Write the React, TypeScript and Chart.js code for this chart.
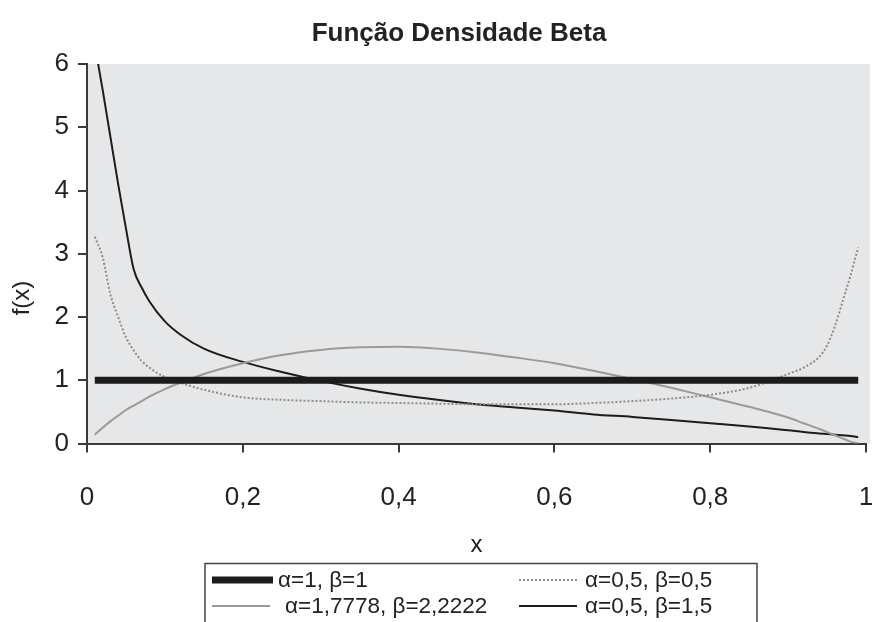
import React, { useEffect, useRef } from 'react';
import { Chart, registerables } from 'chart.js';

Chart.register(...registerables);

const chartTitle = 'Função Densidade Beta';
const xAxisTitle = 'x';
const yAxisTitle = 'f(x)';
const xTickLabels = ['0', '0,2', '0,4', '0,6', '0,8', '1'];
const yTickLabels = ['0', '1', '2', '3', '4', '5', '6'];
const seriesNames = ['α=1, β=1', 'α=0,5, β=0,5', 'α=1,7778, β=2,2222', 'α=0,5, β=1,5'];

const xValues = [0.01, 0.02, 0.03, 0.04, 0.05, 0.06, 0.07, 0.08, 0.1, 0.12, 0.15, 0.2, 0.25, 0.3, 0.35, 0.4, 0.45, 0.5, 0.55, 0.6, 0.65, 0.7, 0.75, 0.8, 0.85, 0.9, 0.92, 0.94, 0.95, 0.96, 0.97, 0.98, 0.99];
const uniformValues = [1, 1, 1, 1, 1, 1, 1, 1, 1, 1, 1, 1, 1, 1, 1, 1, 1, 1, 1, 1, 1, 1, 1, 1, 1, 1, 1, 1, 1, 1, 1, 1, 1];
const arcsineValues = [3.27, 2.95, 2.36, 2.0, 1.68, 1.47, 1.31, 1.2, 1.05, 0.96, 0.85, 0.73, 0.69, 0.67, 0.65, 0.64, 0.63, 0.62, 0.62, 0.62, 0.64, 0.67, 0.71, 0.77, 0.88, 1.1, 1.2, 1.37, 1.55, 1.85, 2.25, 2.65, 3.1];
const bellValues = [0.14, 0.25, 0.35, 0.44, 0.53, 0.6, 0.67, 0.74, 0.86, 0.96, 1.1, 1.27, 1.4, 1.48, 1.52, 1.53, 1.5, 1.44, 1.36, 1.27, 1.15, 1.02, 0.88, 0.73, 0.58, 0.41, 0.32, 0.23, 0.18, 0.13, 0.08, 0.03, 0.0];
const decreasingValues = [6.3, 5.6, 4.85, 4.1, 3.4, 2.75, 2.47, 2.25, 1.93, 1.72, 1.5, 1.29, 1.13, 0.99, 0.87, 0.77, 0.69, 0.62, 0.57, 0.52, 0.46, 0.42, 0.37, 0.32, 0.27, 0.21, 0.18, 0.16, 0.15, 0.14, 0.13, 0.12, 0.1];

const FONT = "'Liberation Sans', Arial, Helvetica, sans-serif";
const TEXT = '#222222';
const AXIS = '#3a3a3a';

const toPoints = (ys: number[]) => xValues.map((x, i) => ({ x, y: ys[i] }));

const bgPlugin = {
  id: 'plotBg',
  beforeDraw(chart: any) {
    const { ctx, chartArea } = chart;
    ctx.save();
    ctx.fillStyle = '#e6e7e9';
    ctx.fillRect(chartArea.left, chartArea.top, chartArea.right - chartArea.left + 4, chartArea.bottom - chartArea.top);
    ctx.restore();
  },
};

const textPlugin = {
  id: 'customText',
  afterDraw(chart: any) {
    const { ctx } = chart;
    ctx.save();
    ctx.font = `bold 26px ${FONT}`;
    ctx.fillStyle = TEXT;
    ctx.textAlign = 'center';
    ctx.textBaseline = 'alphabetic';
    ctx.fillText(chartTitle, 459, 41);
    ctx.translate(22, 298);
    ctx.rotate(-Math.PI / 2);
    ctx.font = `24px ${FONT}`;
    ctx.textBaseline = 'middle';
    ctx.fillText(yAxisTitle, 0, 0);
    ctx.restore();
  },
};

const legendLayout = [
  { sx: 212, ex: 273, tx: 278, y: 580 },
  { sx: 519, ex: 579, tx: 585, y: 580 },
  { sx: 212, ex: 270, tx: 285, y: 606 },
  { sx: 519, ex: 577, tx: 585, y: 606 },
];

const legendPlugin = {
  id: 'boxLegend',
  afterDraw(chart: any) {
    const { ctx } = chart;
    ctx.save();
    ctx.strokeStyle = '#444444';
    ctx.lineWidth = 1.5;
    ctx.strokeRect(205, 563.5, 552, 120);
    chart.data.datasets.forEach((ds: any, i: number) => {
      const L = legendLayout[i];
      ctx.save();
      ctx.strokeStyle = ds.borderColor;
      ctx.lineWidth = ds.borderWidth;
      ctx.setLineDash(ds.borderDash || []);
      ctx.lineCap = 'butt';
      ctx.beginPath();
      ctx.moveTo(L.sx, L.y);
      ctx.lineTo(L.ex, L.y);
      ctx.stroke();
      ctx.restore();
      ctx.font = `22.5px ${FONT}`;
      ctx.fillStyle = TEXT;
      ctx.textAlign = 'left';
      ctx.textBaseline = 'middle';
      ctx.fillText(ds.label, L.tx, L.y + 1);
    });
    ctx.restore();
  },
};

export default function App() {
  const ref = useRef<HTMLCanvasElement | null>(null);

  useEffect(() => {
    document.body.style.margin = '0';
    const canvas = ref.current;
    if (!canvas) return;
    const chart = new Chart(canvas, {
      type: 'line',
      data: {
        datasets: [
          {
            label: seriesNames[0],
            data: toPoints(uniformValues),
            borderColor: '#1c1c1c',
            borderWidth: 7,
            pointRadius: 0,
            borderCapStyle: 'butt',
          },
          {
            label: seriesNames[1],
            data: toPoints(arcsineValues),
            borderColor: '#8c8c8c',
            borderWidth: 2,
            borderDash: [2, 2],
            pointRadius: 0,
            cubicInterpolationMode: 'monotone',
          },
          {
            label: seriesNames[2],
            data: toPoints(bellValues),
            borderColor: '#9a9a9a',
            borderWidth: 2,
            pointRadius: 0,
            cubicInterpolationMode: 'monotone',
          },
          {
            label: seriesNames[3],
            data: toPoints(decreasingValues),
            borderColor: '#1c1c1c',
            borderWidth: 2,
            pointRadius: 0,
            cubicInterpolationMode: 'monotone',
          },
        ] as any,
      },
      options: {
        animation: false,
        responsive: false,
        devicePixelRatio: 1,
        layout: { padding: { left: 0, right: 8, top: 64, bottom: 58.5 } },
        plugins: {
          legend: { display: false },
          title: { display: false },
          tooltip: { enabled: false },
        },
        scales: {
          x: {
            type: 'linear',
            min: 0,
            max: 1,
            border: { display: true, color: AXIS, width: 2 },
            grid: { display: true, drawOnChartArea: false, drawTicks: true, tickLength: 9, color: AXIS, lineWidth: 2 },
            ticks: {
              stepSize: 0.2,
              autoSkip: false,
              maxRotation: 0,
              padding: 30,
              color: TEXT,
              font: { family: FONT, size: 26 },
              callback: (_v: any, i: number) => xTickLabels[i],
            },
            title: { display: true, text: xAxisTitle, color: TEXT, font: { family: FONT, size: 24 }, padding: { top: 0, bottom: 4 } },
            afterFit: (s: any) => {
              s.height = 120;
              s.paddingLeft = 0;
              s.paddingRight = 0;
            },
          },
          y: {
            type: 'linear',
            min: 0,
            max: 6,
            border: { display: true, color: AXIS, width: 2 },
            grid: { display: true, drawOnChartArea: false, drawTicks: true, tickLength: 9, color: AXIS, lineWidth: 2 },
            ticks: {
              stepSize: 1,
              padding: 9,
              color: TEXT,
              font: { family: FONT, size: 26 },
              callback: (_v: any, i: number) => yTickLabels[i],
            },
            afterFit: (s: any) => {
              s.width = 87;
              s.paddingTop = 0;
              s.paddingBottom = 0;
            },
          },
        },
      } as any,
      plugins: [bgPlugin, textPlugin, legendPlugin],
    });
    return () => chart.destroy();
  }, []);

  return (
    <div style={{ width: 874, height: 622, position: 'relative', background: '#ffffff' }}>
      <canvas ref={ref} width={874} height={622} style={{ display: 'block' }} />
    </div>
  );
}
